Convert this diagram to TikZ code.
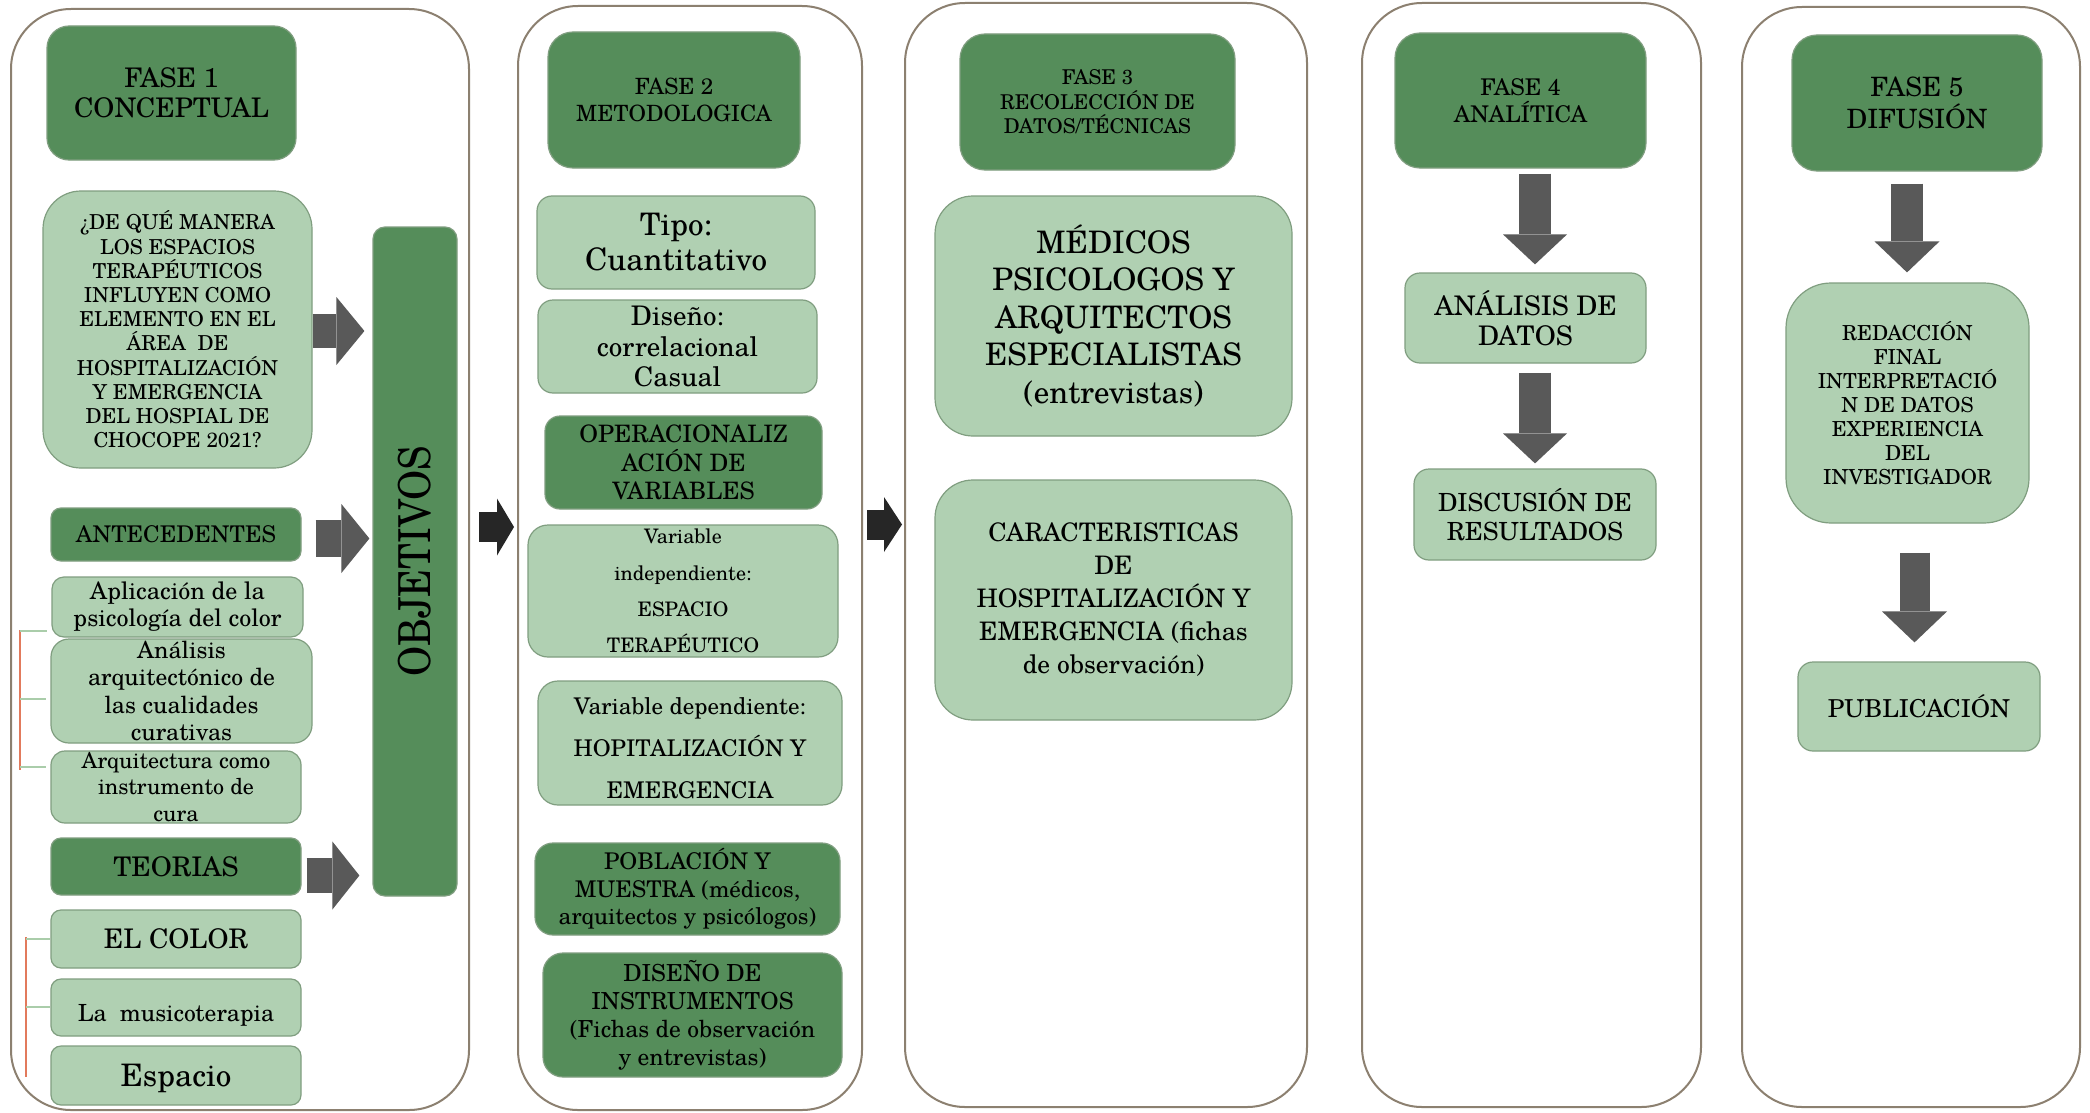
\documentclass[tikz,border=0pt]{standalone}
\usepackage{fontspec}
\setmainfont{texgyreschola}[Extension=.otf,UprightFont=*-regular,BoldFont=*-bold,ItalicFont=*-italic,BoldItalicFont=*-bolditalic]
\usetikzlibrary{arrows.meta}
\definecolor{dkg}{RGB}{85,141,90}
\definecolor{ltg}{RGB}{176,208,178}
\definecolor{bord}{RGB}{128,158,128}
\definecolor{frmc}{RGB}{140,128,112}
\definecolor{garc}{RGB}{89,89,89}
\definecolor{barc}{RGB}{38,38,38}
\definecolor{brkc}{RGB}{226,122,92}
\definecolor{tckc}{RGB}{170,205,170}
\newcommand{\fs}[2]{\fontsize{#1}{#2}\selectfont}
\begin{document}
\begin{tikzpicture}[x=1pt,y=-1pt,
  dkbox/.style={rectangle, rounded corners=#1, draw=bord, line width=1.2pt, fill=dkg, align=center, inner sep=0pt, text=black},
  ltbox/.style={rectangle, rounded corners=#1, draw=bord, line width=1.2pt, fill=ltg, align=center, inner sep=0pt, text=black},
  frm/.style={rectangle, rounded corners=60pt, draw=frmc, line width=2pt, inner sep=0pt},
  brk/.style={draw=brkc, line width=2.5pt},
  tck/.style={draw=tckc, line width=1.2pt},
  gar/.style={draw=garc},
  bar/.style={draw=barc}]
\useasboundingbox (0,0) rectangle (2090,1113);
\fill[white] (0,0) rectangle (2090,1113);

% frames
\node[frm, minimum width=458pt, minimum height=1101pt] (F1) at (240,559.5) {};
\node[frm, minimum width=344pt, minimum height=1104pt] (F2) at (690,558) {};
\node[frm, minimum width=402pt, minimum height=1104pt] (F3) at (1106,555) {};
\node[frm, minimum width=339pt, minimum height=1104pt] (F4) at (1531.5,555) {};
\node[frm, minimum width=338pt, minimum height=1100pt] (F5) at (1911,557) {};

% ---------- FASE 1
\node[dkbox=22pt, minimum width=249pt, minimum height=134pt, font=\fs{27}{30}] (f1) at (171.5,93) {FASE 1\\CONCEPTUAL};
\node[ltbox=38pt, minimum width=269pt, minimum height=277pt, font=\fs{20.6}{24.2}] (q) at (177.5,329.5)
 {¿DE QUÉ MANERA\\LOS ESPACIOS\\TERAPÉUTICOS\\INFLUYEN COMO\\ELEMENTO EN EL\\ÁREA\ \ DE\\HOSPITALIZACIÓN\\Y EMERGENCIA\\DEL HOSPIAL DE\\CHOCOPE 2021?};
\node[dkbox=12pt, minimum width=84pt, minimum height=669pt] (obj) at (415,561.5)
 {\rotatebox{90}{\scalebox{0.88}[1]{\fs{44}{44}OBJETIVOS}}};
\node[dkbox=10pt, minimum width=250pt, minimum height=53pt, font=\fs{23}{27}] (ant) at (176,534.5) {ANTECEDENTES};
\node[ltbox=12pt, minimum width=251pt, minimum height=60pt, font=\fs{24}{27}] (apl) at (177.5,607) {Aplicación de la\\psicología del color};
\node[ltbox=18pt, minimum width=261pt, minimum height=104pt, font=\fs{23.6}{27.5}] (ana) at (181.5,691) {Análisis\\arquitectónico de\\las cualidades\\curativas};
\node[ltbox=14pt, minimum width=250pt, minimum height=72pt, font=\fs{22}{26.5}] (arq) at (176,787) {Arquitectura como\\instrumento de\\cura};
\node[dkbox=10pt, minimum width=250pt, minimum height=57pt, font=\fs{27}{30}] (teo) at (176,866.5) {TEORIAS};
\node[ltbox=10pt, minimum width=250pt, minimum height=58pt, font=\fs{27}{30}] (col) at (176,939) {EL COLOR};
\node[ltbox=10pt, minimum width=250pt, minimum height=57pt, font=\fs{23.6}{27}] (mus) at (176,1007.5) {\raisebox{-8pt}[\height][\depth]{La\ \ musicoterapia}};
\node[ltbox=10pt, minimum width=250pt, minimum height=59pt, font=\fs{31}{34}] (esp) at (176,1075.5) {\raisebox{-3pt}[\height][\depth]{Espacio}};

% brackets
\coordinate (b1t) at (20,630);
\coordinate (b1m) at (20,699);
\coordinate (b1b) at (20,770);
\draw[brk] (b1t) -- (b1b);
\draw[tck, shorten >=4pt] ([yshift=-1pt]b1t) -- ([yshift=-1pt]b1t -| apl.west);
\draw[tck, shorten >=4pt] (b1m) -- (b1m -| ana.west);
\draw[tck, shorten >=4pt] ([yshift=3pt]b1b) -- ([yshift=3pt]b1b -| arq.west);
\coordinate (b2t) at (26,937);
\coordinate (b2m) at (26,1007);
\coordinate (b2b) at (26,1077);
\draw[brk] (b2t) -- (b2b);
\draw[tck] ([yshift=-2pt]b2t) -- ([yshift=-2pt]b2t -| col.west);
\draw[tck] (b2m) -- (b2m -| mus.west);

% gray arrows to OBJETIVOS
\draw[gar, line width=34pt, -{Triangle[width=68pt,length=28pt,line width=0pt]}, shorten >=8pt]
  ([yshift=-1.5pt]q.east) -- ([yshift=-1.5pt]q.east -| obj.west);
\draw[gar, line width=37pt, -{Triangle[width=69pt,length=28pt,line width=0pt]}, shorten <=14pt, shorten >=3pt]
  ([yshift=-4pt]ant.east) -- ([yshift=-4pt]ant.east -| obj.west);
\draw[gar, line width=35pt, -{Triangle[width=68pt,length=27pt,line width=0pt]}, shorten <=5pt, shorten >=13pt]
  ([yshift=-9pt]teo.east) -- ([yshift=-9pt]teo.east -| obj.west);

% black arrows between phases
\draw[bar, line width=30pt, -{Triangle[width=57pt,length=17pt,line width=0pt]}, shorten <=9pt, shorten >=3pt]
  ([yshift=32.5pt]F1.east) -- ([yshift=32.5pt]F1.east -| F2.west);
\draw[bar, line width=30pt, -{Triangle[width=55pt,length=18pt,line width=0pt]}, shorten <=4pt, shorten >=2pt]
  ([yshift=33.5pt]F2.east) -- ([yshift=33.5pt]F2.east -| F3.west);

% ---------- FASE 2
\node[dkbox=25pt, minimum width=252pt, minimum height=136pt, font=\fs{22.4}{27}] (f2) at (674,100) {FASE 2\\METODOLOGICA};
\node[ltbox=15pt, minimum width=278pt, minimum height=93pt, font=\fs{31}{35}] (tipo) at (676,242.5) {Tipo:\\Cuantitativo};
\node[ltbox=15pt, minimum width=279pt, minimum height=93pt, font=\fs{27}{30.5}] (dis) at (677.5,346.5) {Diseño:\\correlacional\\Casual};
\node[dkbox=15pt, minimum width=277pt, minimum height=93pt, font=\fs{24}{28.5}] (op) at (683.5,462.5) {OPERACIONALIZ\\ACIÓN DE\\VARIABLES};
\node[ltbox=20pt, minimum width=310pt, minimum height=132pt, font=\fs{20}{36.3}] (vi) at (683,591) {Variable\\independiente:\\ESPACIO\\TERAPÉUTICO};
\node[ltbox=20pt, minimum width=304pt, minimum height=124pt, font=\fs{23}{42}] (vd) at (690,743) {\raisebox{-5pt}[\height][\depth]{Variable dependiente:}\\\raisebox{-5pt}[\height][\depth]{HOPITALIZACIÓN Y}\\\raisebox{-5pt}[\height][\depth]{EMERGENCIA}};
\node[dkbox=18pt, minimum width=305pt, minimum height=92pt, font=\fs{23}{27.5}] (pob) at (687.5,889) {POBLACIÓN Y\\MUESTRA (médicos,\\arquitectos y psicólogos)};
\node[dkbox=20pt, minimum width=299pt, minimum height=124pt, font=\fs{23.5}{28}] (dsi) at (692.5,1015) {DISEÑO DE\\INSTRUMENTOS\\(Fichas de observación\\y entrevistas)};

% ---------- FASE 3
\node[dkbox=25pt, minimum width=275pt, minimum height=136pt, font=\fs{20.4}{24.5}] (f3) at (1097.5,102) {FASE 3\\RECOLECCIÓN DE\\DATOS/TÉCNICAS};
\node[ltbox=38pt, minimum width=357pt, minimum height=240pt, font=\fs{31}{37.5}] (med) at (1113.5,316) {MÉDICOS\\PSICOLOGOS Y\\ARQUITECTOS\\ESPECIALISTAS\\(entrevistas)};
\node[ltbox=38pt, minimum width=357pt, minimum height=240pt, font=\fs{25.5}{33}] (car) at (1113.5,600) {CARACTERISTICAS\\DE\\HOSPITALIZACIÓN Y\\EMERGENCIA (fichas\\de observación)};

% ---------- FASE 4
\node[dkbox=25pt, minimum width=251pt, minimum height=135pt, font=\fs{23}{27}] (f4) at (1520.5,100.5) {FASE 4\\ANALÍTICA};
\node[ltbox=15pt, minimum width=241pt, minimum height=90pt, font=\fs{27}{30}] (ana4) at (1525.5,318) {ANÁLISIS DE\\DATOS};
\node[ltbox=15pt, minimum width=242pt, minimum height=91pt, font=\fs{25}{29}] (disc) at (1535,514.5) {DISCUSIÓN DE\\RESULTADOS};
\draw[gar, line width=32pt, -{Triangle[width=64pt,length=30pt,line width=0pt]}, shorten <=5pt, shorten >=8pt]
  ([xshift=14.5pt]f4.south) -- ([xshift=14.5pt]f4.south |- ana4.north);
\draw[gar, line width=32pt, -{Triangle[width=64pt,length=30pt,line width=0pt]}, shorten <=9pt, shorten >=5pt]
  ([xshift=9.5pt]ana4.south) -- ([xshift=9.5pt]ana4.south |- disc.north);

% ---------- FASE 5
\node[dkbox=25pt, minimum width=250pt, minimum height=136pt, font=\fs{26.6}{32}] (f5) at (1917,103) {FASE 5\\DIFUSIÓN};
\node[ltbox=45pt, minimum width=243pt, minimum height=240pt, font=\fs{20.7}{24}] (red) at (1907.5,403)
 {REDACCIÓN\\FINAL\\INTERPRETACIÓ\\N DE DATOS\\EXPERIENCIA\\DEL\\INVESTIGADOR};
\node[ltbox=15pt, minimum width=242pt, minimum height=89pt, font=\fs{24.7}{28}] (pub) at (1919,706.5) {PUBLICACIÓN};
\draw[gar, line width=32pt, -{Triangle[width=65pt,length=31pt,line width=0pt]}, shorten <=12pt, shorten >=10pt]
  ([xshift=-10pt]f5.south) -- ([xshift=-10pt]f5.south |- red.north);
\draw[gar, line width=30pt, -{Triangle[width=65pt,length=31pt,line width=0pt]}, shorten <=29pt, shorten >=19pt]
  ([xshift=7pt]red.south) -- ([xshift=7pt]red.south |- pub.north);
\end{tikzpicture}
\end{document}
